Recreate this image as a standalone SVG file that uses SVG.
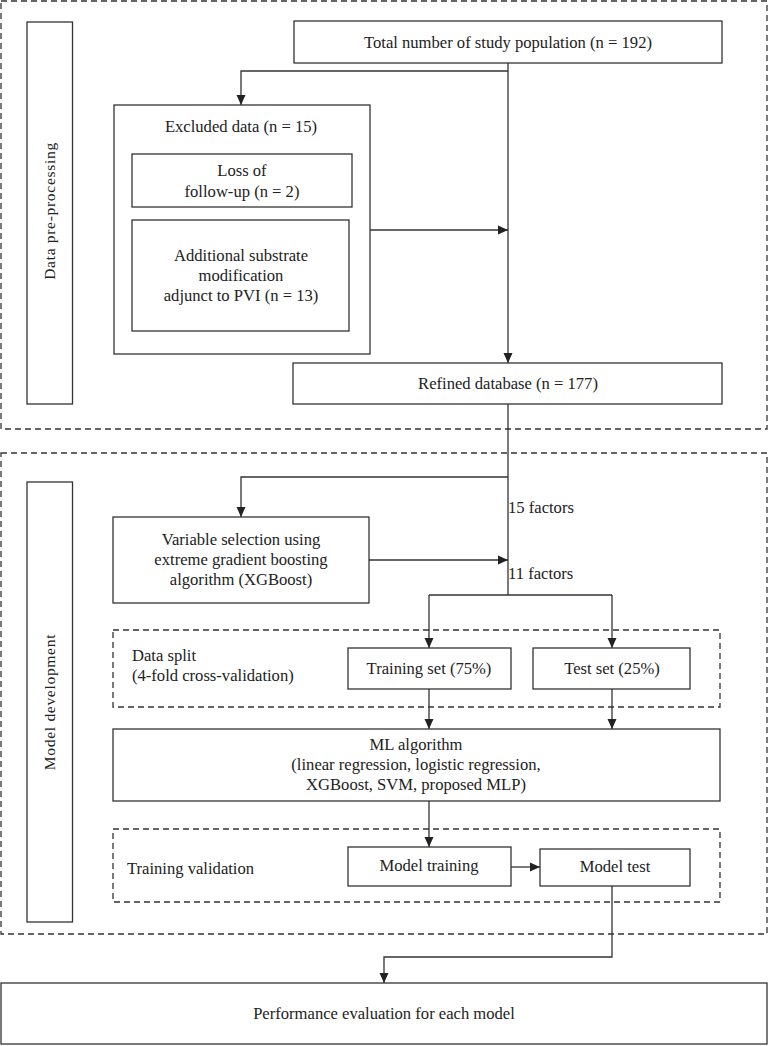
<svg xmlns="http://www.w3.org/2000/svg" width="769" height="1046" viewBox="0 0 769 1046">
<style>
.box{fill:#fff;stroke:#333;stroke-width:1.3}
.dash{fill:none;stroke:#333;stroke-width:1.3;stroke-dasharray:6,4}
.ln{fill:none;stroke:#333;stroke-width:1.3}
text{font-family:"Liberation Serif","Times New Roman",serif;font-size:16.6px;fill:#222;text-anchor:middle}
.l{text-anchor:start}
.side{font-size:15.5px;letter-spacing:0.7px}
</style>
<defs>
<marker id="ah" viewBox="0 0 10 10" refX="10" refY="5" markerWidth="10" markerHeight="10" markerUnits="userSpaceOnUse" orient="auto">
<path d="M0,0.5 L10,5 L0,9.5 z" fill="#222"/>
</marker>
</defs>
<rect width="769" height="1046" fill="#fff"/>
<g id="section-preprocessing">
<rect class="dash" x="1" y="1" width="766" height="428"/>
<rect class="box" x="27" y="22" width="45.5" height="382"/>
<text class="side" transform="translate(54.5,211) rotate(-90)">Data pre-processing</text>
</g>
<g id="section-model">
<rect class="dash" x="1" y="453" width="766" height="481"/>
<rect class="box" x="27" y="482" width="45.5" height="440"/>
<text class="side" transform="translate(54.5,702) rotate(-90)">Model development</text>
</g>
<g id="connectors">
<path class="ln" d="M508,63 V363" marker-end="url(#ah)"/>
<path class="ln" d="M508,71 H241 V105" marker-end="url(#ah)"/>
<path class="ln" d="M370,230 H508" marker-end="url(#ah)"/>
<path class="ln" d="M508,404 V595"/>
<path class="ln" d="M508,477 H241 V517" marker-end="url(#ah)"/>
<path class="ln" d="M369,560 H508" marker-end="url(#ah)"/>
<path class="ln" d="M429,595 H612"/>
<path class="ln" d="M429,595 V648" marker-end="url(#ah)"/>
<path class="ln" d="M612,595 V648" marker-end="url(#ah)"/>
<path class="ln" d="M429,689 V729" marker-end="url(#ah)"/>
<path class="ln" d="M612,689 V729" marker-end="url(#ah)"/>
<path class="ln" d="M429,801 V847" marker-end="url(#ah)"/>
<path class="ln" d="M511,867 H540" marker-end="url(#ah)"/>
<path class="ln" d="M612,886 V957 H384 V983" marker-end="url(#ah)"/>
</g>
<g id="total">
<rect class="box" x="294" y="21" width="428" height="42"/>
<text x="508" y="47.5">Total number of study population (n = 192)</text>
</g>
<g id="excluded">
<rect class="box" x="114" y="105" width="256" height="249"/>
<text x="241" y="131.5">Excluded data (n = 15)</text>
</g>
<g id="loss">
<rect class="box" x="132" y="154" width="220" height="53"/>
<text x="242" y="175.5">Loss of</text>
<text x="242" y="196.5">follow-up (n = 2)</text>
</g>
<g id="additional">
<rect class="box" x="132" y="220" width="217" height="111"/>
<text x="241" y="260.5">Additional substrate</text>
<text x="241" y="280.5">modification</text>
<text x="241" y="300.5">adjunct to PVI (n = 13)</text>
</g>
<g id="refined">
<rect class="box" x="293" y="363" width="429" height="41"/>
<text x="508" y="388.5">Refined database (n = 177)</text>
</g>
<g id="label-15">
<text class="l" x="508" y="512.5">15 factors</text>
</g>
<g id="variable">
<rect class="box" x="113" y="517" width="256" height="86"/>
<text x="241" y="544.5">Variable selection using</text>
<text x="241" y="564.5">extreme gradient boosting</text>
<text x="241" y="584.5">algorithm (XGBoost)</text>
</g>
<g id="label-11">
<text class="l" x="508" y="578.5">11 factors</text>
</g>
<g id="datasplit">
<rect class="dash" x="113" y="630" width="607" height="77"/>
<text class="l" x="132" y="660.5">Data split</text>
<text class="l" x="132" y="680.5">(4-fold cross-validation)</text>
</g>
<g id="training-set">
<rect class="box" x="348" y="648" width="163" height="41"/>
<text x="429" y="673.5">Training set (75%)</text>
</g>
<g id="test-set">
<rect class="box" x="533" y="648" width="157" height="41"/>
<text x="612" y="673.5">Test set (25%)</text>
</g>
<g id="ml">
<rect class="box" x="113" y="729" width="607" height="72"/>
<text x="416" y="749.5">ML algorithm</text>
<text x="416" y="770">(linear regression, logistic regression,</text>
<text x="416" y="789.5">XGBoost, SVM, proposed MLP)</text>
</g>
<g id="training-validation">
<rect class="dash" x="113" y="829" width="607" height="73"/>
<text class="l" x="127" y="873.5">Training validation</text>
</g>
<g id="model-training">
<rect class="box" x="348" y="847" width="163" height="39"/>
<text x="429" y="870.5">Model training</text>
</g>
<g id="model-test">
<rect class="box" x="540" y="849" width="150" height="37"/>
<text x="615" y="871.5">Model test</text>
</g>
<g id="performance">
<rect class="box" x="1" y="983" width="766" height="61"/>
<text x="384" y="1018.5">Performance evaluation for each model</text>
</g>
</svg>
